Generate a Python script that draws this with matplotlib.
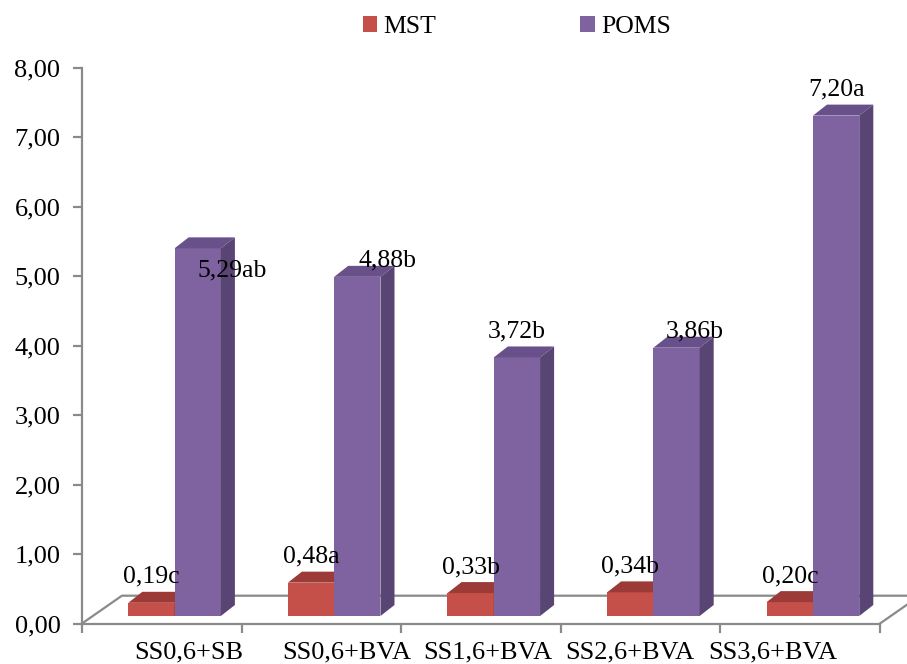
import numpy as np
import matplotlib.pyplot as plt
from matplotlib.patches import Polygon, Patch
from matplotlib.ticker import FuncFormatter

plt.rcParams['font.family'] = ['Liberation Serif', 'DejaVu Serif']

# ---- data ----
categories = ['SS0,6+SB', 'SS0,6+BVA', 'SS1,6+BVA', 'SS2,6+BVA', 'SS3,6+BVA']
mst = [0.19, 0.48, 0.33, 0.34, 0.20]
poms = [5.29, 4.88, 3.72, 3.86, 7.20]
mst_letters = ['c', 'a', 'b', 'b', 'c']
poms_letters = ['ab', 'b', 'b', 'b', 'a']

# label nudges (points) for the POMS labels, category label shifts (x units)
poms_nudge = [(25, -35), (22, -7), (0, 0), (13, -7), (0, 0)]
cat_shift = [0.17, 0.16, 0.04, -0.07, -0.175]

# ---- colours ----
red_front, red_top, red_side = '#C5504A', '#9C3A37', '#8E3330'
pur_front, pur_top, pur_side = '#7F63A1', '#68508A', '#584573'
axis_grey = '#8A8A8A'

# ---- pseudo 3D geometry (data units) ----
base = 0.108          # bar plane sits a little behind the front edge
ddx, ddy = 0.088, 0.158   # bar depth
fdx, fdy = 0.25, 0.40     # floor depth
bw = 0.29

fig = plt.figure(figsize=(9.07, 6.64), dpi=100)
ax = fig.add_axes([82 / 907, (664 - 623.5) / 664, 798 / 907, 556 / 664])
ax.set_xlim(-0.5, 4.5)
ax.set_ylim(0, 8)
ax.patch.set_visible(False)


def fmt(v):
    return f'{v:.2f}'.replace('.', ',')


def box(x0, v, front, top, side, z):
    x1 = x0 + bw
    y0, y1 = base, base + v
    ax.add_patch(Polygon([(x0, y0), (x1, y0), (x1, y1), (x0, y1)],
                         closed=True, fc=front, ec='none', zorder=z, clip_on=False))
    ax.add_patch(Polygon([(x0, y1), (x1, y1), (x1 + ddx, y1 + ddy), (x0 + ddx, y1 + ddy)],
                         closed=True, fc=top, ec='none', zorder=z, clip_on=False))
    ax.add_patch(Polygon([(x1, y0), (x1 + ddx, y0 + ddy), (x1 + ddx, y1 + ddy), (x1, y1)],
                         closed=True, fc=side, ec='none', zorder=z, clip_on=False))


# floor outline
floor_x = [-0.5, -0.5 + fdx, 4.5 + fdx, 4.5]
floor_y = [0, fdy, fdy, 0]
ax.plot(floor_x, floor_y, color=axis_grey, lw=1.6, zorder=1, clip_on=False)

x = np.arange(len(categories))
for i in x:
    box(i - 0.21, mst[i], red_front, red_top, red_side, 3 + i)
    box(i + 0.08, poms[i], pur_front, pur_top, pur_side, 3 + i)

    ax.annotate(fmt(mst[i]) + mst_letters[i], (i - 0.21 + bw / 2, base + mst[i] + ddy + 0.13),
                ha='center', va='baseline', fontsize=18.5, zorder=20,
                annotation_clip=False)
    ax.annotate(fmt(poms[i]) + poms_letters[i], (i + 0.08 + bw / 2, base + poms[i] + ddy + 0.13),
                xytext=poms_nudge[i], textcoords='offset points',
                ha='center', va='baseline', fontsize=18.5, zorder=20,
                annotation_clip=False)

    ax.text(i + cat_shift[i], -0.50, categories[i], ha='center', va='baseline',
            fontsize=19, clip_on=False)

# axes
for s in ['top', 'right']:
    ax.spines[s].set_visible(False)
for s in ['left', 'bottom']:
    ax.spines[s].set_color(axis_grey)
    ax.spines[s].set_linewidth(1.6)
ax.set_yticks(np.arange(0, 9, 1))
ax.yaxis.set_major_formatter(FuncFormatter(lambda v, p: fmt(v)))
ax.set_xticks(np.arange(-0.5, 5, 1))
ax.set_xticklabels([])
ax.tick_params(axis='both', direction='out', length=6.5, width=1.6,
               color=axis_grey, labelsize=19, pad=9)

# legend
handles = [Patch(fc=red_front, ec='none', label='MST'),
           Patch(fc=pur_front, ec='none', label='POMS')]
fig.legend(handles=handles, ncol=2, frameon=False, fontsize=18.5,
           loc='center', bbox_to_anchor=(517 / 907, 1 - 27 / 664),
           handlelength=0.55, handleheight=0.55, handletextpad=0.25,
           columnspacing=5.6)

fig.savefig('out.png', dpi=100)
